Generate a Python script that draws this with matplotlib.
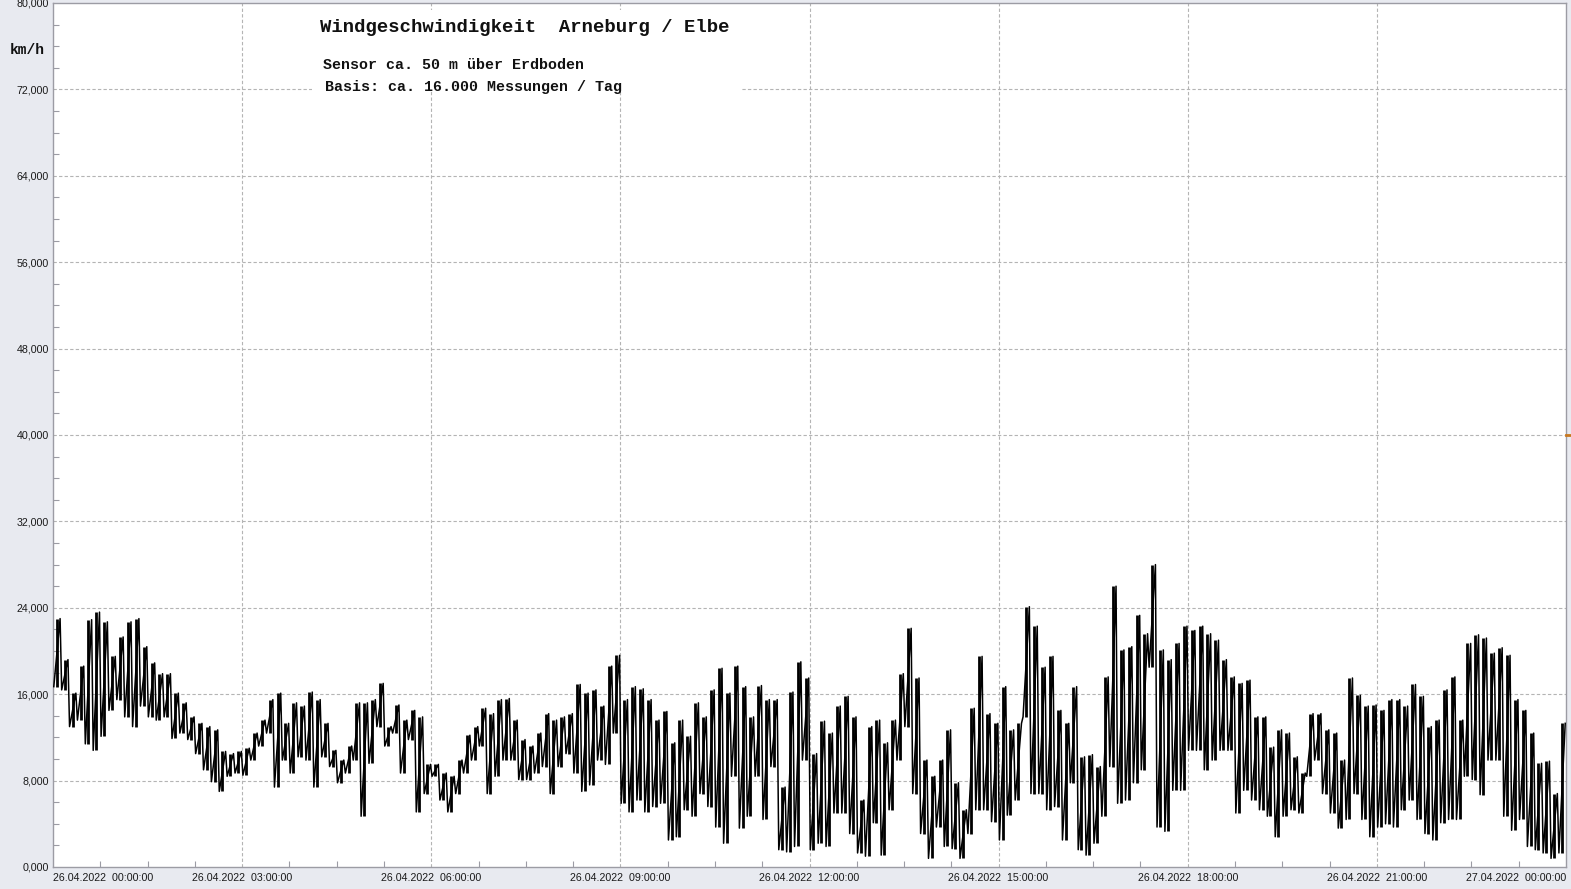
import matplotlib
matplotlib.use('Agg')
import matplotlib.pyplot as plt
from matplotlib.ticker import MultipleLocator, FuncFormatter, FixedLocator
from matplotlib.patches import Rectangle

# --- Texte ---
TITEL = 'Windgeschwindigkeit  Arneburg / Elbe'
ZEILE_1 = 'Sensor ca. 50 m über Erdboden'
ZEILE_2 = 'Basis: ca. 16.000 Messungen / Tag'
EINHEIT = 'km/h'

# X-Achse: Stunden ab 26.04.2022 00:00
x_ticks = [0, 3, 6, 9, 12, 15, 18, 21, 24]
x_labels = ['26.04.2022  00:00:00', '26.04.2022  03:00:00', '26.04.2022  06:00:00',
            '26.04.2022  09:00:00', '26.04.2022  12:00:00', '26.04.2022  15:00:00',
            '26.04.2022  18:00:00', '26.04.2022  21:00:00', '27.04.2022  00:00:00']

# --- Messwerte (km/h), je 1/8 Stunde: Maximum und Minimum im Intervall ---
oben = [23.0, 19.2, 16.1, 18.6, 22.9, 23.6, 22.7, 19.5, 21.3, 22.7, 23.0, 20.4,
        18.9, 17.9, 17.9, 16.1, 15.2, 13.9, 13.3, 13.0, 12.7, 10.7, 10.5, 10.7,
        11.0, 12.4, 13.6, 15.5, 16.1, 13.3, 15.2, 14.9, 16.2, 15.5, 13.3, 10.8,
        9.9, 11.2, 15.2, 15.2, 15.5, 17.0, 13.0, 15.0, 13.6, 14.5, 13.9, 9.5,
        9.5, 8.7, 8.4, 9.9, 12.2, 13.0, 14.7, 14.2, 15.5, 15.6, 13.6, 11.8,
        11.2, 12.4, 14.2, 13.6, 13.9, 14.2, 16.9, 16.1, 16.4, 14.9, 18.6, 19.6,
        15.5, 16.7, 16.5, 15.5, 13.6, 14.4, 11.5, 13.6, 12.1, 15.2, 13.9, 16.4,
        18.4, 16.1, 18.6, 16.7, 13.9, 16.8, 15.5, 15.5, 7.4, 16.2, 19.0, 17.5,
        10.5, 13.5, 12.4, 14.9, 15.8, 13.9, 6.2, 13.0, 13.6, 11.5, 13.6, 17.9,
        22.1, 17.5, 9.9, 8.4, 9.9, 12.7, 7.8, 5.3, 14.7, 19.5, 14.2, 13.3,
        16.7, 12.7, 13.3, 24.1, 22.3, 18.5, 19.5, 14.5, 13.3, 16.7, 10.2, 10.4,
        9.3, 17.6, 26.0, 20.1, 20.4, 23.3, 21.6, 28.0, 20.1, 19.2, 20.7, 22.3,
        21.9, 22.3, 21.6, 21.0, 19.2, 17.6, 17.0, 17.3, 13.9, 13.9, 11.1, 12.7,
        12.4, 10.2, 8.7, 14.2, 14.2, 12.7, 12.4, 9.9, 17.5, 15.9, 14.9, 15.0,
        14.5, 15.5, 15.5, 14.9, 16.9, 15.8, 13.0, 13.6, 16.4, 17.6, 13.6, 20.7,
        21.5, 21.2, 19.8, 20.3, 19.6, 15.5, 14.5, 12.4, 9.6, 9.8, 6.8, 13.3]

unten = [16.7, 16.4, 13.0, 13.6, 11.4, 10.8, 12.1, 14.5, 15.5, 13.9, 13.0, 14.9,
         13.9, 13.6, 13.9, 11.9, 12.4, 11.8, 10.5, 9.0, 7.9, 7.0, 8.4, 8.7,
         8.5, 9.9, 11.2, 12.4, 7.4, 9.9, 8.7, 10.2, 9.9, 7.4, 10.2, 9.3,
         7.8, 8.7, 9.9, 4.7, 9.6, 13.0, 11.2, 12.4, 8.7, 11.8, 5.1, 6.8,
         8.4, 6.2, 5.1, 6.8, 8.7, 9.9, 11.2, 6.8, 8.4, 9.9, 9.9, 8.1,
         8.1, 8.7, 9.3, 6.8, 9.3, 10.5, 8.7, 7.0, 7.6, 9.9, 9.5, 12.4,
         5.9, 5.1, 6.2, 5.1, 5.6, 5.9, 2.5, 2.8, 5.3, 4.7, 6.8, 5.6,
         3.7, 2.2, 8.4, 3.6, 4.7, 8.4, 4.4, 9.3, 1.6, 1.4, 1.9, 9.9,
         1.6, 2.2, 1.9, 5.0, 5.0, 3.1, 1.3, 1.0, 4.1, 1.1, 5.3, 9.9,
         13.0, 6.8, 3.1, 0.8, 3.7, 1.9, 1.7, 0.8, 3.1, 5.3, 5.3, 4.2,
         2.5, 4.8, 6.2, 13.9, 6.8, 6.8, 5.3, 5.6, 2.5, 7.8, 1.6, 1.1,
         2.2, 4.7, 9.3, 5.9, 6.2, 7.8, 9.0, 18.5, 3.7, 3.3, 7.1, 7.1,
         10.8, 10.8, 9.0, 9.9, 10.8, 10.8, 5.0, 7.1, 6.2, 5.3, 4.7, 2.8,
         4.7, 5.3, 5.0, 8.4, 9.9, 6.8, 5.0, 3.6, 4.4, 6.8, 4.4, 2.8,
         3.7, 4.0, 3.7, 5.3, 6.2, 4.4, 3.1, 2.5, 4.1, 4.4, 4.4, 8.4,
         8.1, 6.7, 9.9, 9.9, 4.7, 3.4, 4.4, 1.9, 1.6, 1.3, 0.8, 1.3]

# Zeitpunkte: Minimum und Maximum abwechselnd innerhalb jedes Intervalls
zeit = []
wert = []
for i in range(len(oben)):
    zeit.append((i + 0.1) / 8)
    wert.append(unten[i])
    zeit.append((i + 0.9) / 8)
    wert.append(oben[i])
mitte = [(i + 0.5) / 8 for i in range(len(oben))]

# --- Grafik ---
BG = '#e8eaf0'
RAND = '#9c9ca4'
fig = plt.figure(figsize=(15.71, 8.89), dpi=100, facecolor=BG)
ax = fig.add_axes([53 / 1571, 22 / 889, 1513 / 1571, 864 / 889])
ax.set_facecolor('white')

# Spannweite je Intervall + Verlauf
ax.vlines(mitte, unten, oben, color='black', linewidth=2.0, zorder=3)
ax.plot(zeit, wert, color='black', linewidth=1.1, zorder=3)

ax.set_xlim(0, 24)
ax.set_ylim(0, 80)

# Gitter
for s in [3, 6, 9, 12, 15, 18, 21]:
    ax.axvline(s, color='#b4b4b4', linewidth=0.8, linestyle=(0, (3, 2)), zorder=1)
for w in range(8, 80, 8):
    ax.axhline(w, color='#b4b4b4', linewidth=0.8, linestyle=(0, (3, 2)), zorder=1)

# Achsen
for sp in ax.spines.values():
    sp.set_color(RAND)
    sp.set_linewidth(1.0)

ax.yaxis.set_major_locator(MultipleLocator(8))
ax.yaxis.set_minor_locator(MultipleLocator(2))
ax.yaxis.set_major_formatter(FuncFormatter(lambda v, p: f'{v:.3f}'.replace('.', ',')))
ax.xaxis.set_major_locator(FixedLocator(x_ticks))
ax.xaxis.set_minor_locator(MultipleLocator(0.75))
ax.set_xticklabels(x_labels)

ax.tick_params(axis='both', which='both', direction='in', color=RAND, width=0.8,
               labelsize=7.7, labelcolor='#1a1a1a')
ax.tick_params(axis='both', which='major', length=0, pad=3)
ax.tick_params(axis='both', which='minor', length=4)
ax.tick_params(axis='x', which='major', length=0, pad=4)

for lab in ax.get_xticklabels():
    lab.set_fontfamily('Liberation Sans')
for lab in ax.get_yticklabels():
    lab.set_fontfamily('Liberation Sans')
xl = ax.get_xticklabels()
xl[0].set_ha('left')
xl[-1].set_ha('right')
yl = ax.get_yticklabels()
yl[0].set_va('bottom')
yl[-1].set_va('top')

# kleine Markierung am rechten Rand
ax.plot([1.0, 1.003], [0.5, 0.5], transform=ax.transAxes, color='#c8781e',
        linewidth=2, clip_on=False, zorder=4)

# Texte oben im Diagramm
fig.add_artist(Rectangle((312 / 1571, 1 - 91 / 889), 430 / 1571, 81 / 889,
                         transform=fig.transFigure, facecolor='white',
                         edgecolor='none', zorder=1))
fig.text(320 / 1571, 1 - 28 / 889, TITEL, family='Liberation Mono', weight='bold',
         fontsize=13.6, ha='left', va='center', color='#111111', zorder=2)
fig.text(323 / 1571, 1 - 65 / 889, ZEILE_1, family='Liberation Mono', weight='bold',
         fontsize=10.8, ha='left', va='center', color='#111111', zorder=2)
fig.text(325 / 1571, 1 - 87 / 889, ZEILE_2, family='Liberation Mono', weight='bold',
         fontsize=10.8, ha='left', va='center', color='#111111', zorder=2)
fig.text(10 / 1571, 1 - 50 / 889, EINHEIT, family='Liberation Mono', weight='bold',
         fontsize=10.5, ha='left', va='center', color='#111111')

fig.savefig('out.png', dpi=100, facecolor=BG)
